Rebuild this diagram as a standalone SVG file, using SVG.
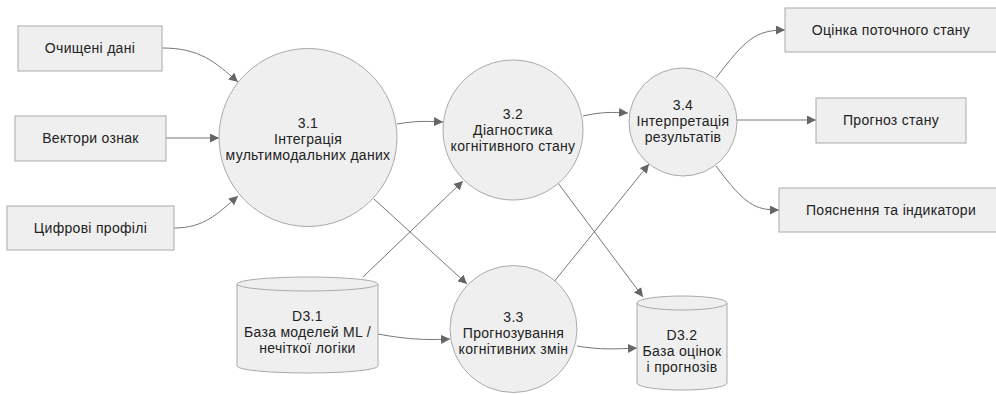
<svg xmlns="http://www.w3.org/2000/svg" width="996" height="394" viewBox="0 0 996 394">
<defs>
<style>
.box{fill:#efefef;stroke:#aaaaaa;stroke-width:1}
.t{font-family:"Liberation Sans",Arial,sans-serif;font-size:14px;letter-spacing:0.3px;fill:#222;text-anchor:middle}
.e{fill:none;stroke:#777;stroke-width:1;marker-end:url(#arr)}
</style>
<marker id="arr" markerUnits="userSpaceOnUse" markerWidth="9" markerHeight="9" refX="9" refY="4.5" orient="auto">
<path d="M0,0 L9,4.5 L0,9 z" fill="#666"/>
</marker>
</defs>
<rect width="996" height="394" fill="#ffffff"/>
<g id="connectors">
<path class="e" d="M162,48 C200,48 215,62 238,82"/>
<path class="e" d="M166,138 L219,138"/>
<path class="e" d="M174,228 C205,228 218,213 238,196"/>
<path class="e" d="M397,124 C415,121 425,121 443,122"/>
<path class="e" d="M583,116 C600,112 612,112 628,113"/>
<path class="e" d="M374,199 L467,284"/>
<path class="e" d="M363,277 L463,181"/>
<path class="e" d="M553,283 L649,164"/>
<path class="e" d="M558,183 L643,297"/>
<path class="e" d="M378,334 C410,340 430,340 450,339"/>
<path class="e" d="M577,346 C600,350 615,349 637,348"/>
<path class="e" d="M716,78 C745,40 755,30 785,30"/>
<path class="e" d="M737,120 L816,120"/>
<path class="e" d="M716,166 C745,205 755,210 779,210"/>
</g>
<g id="src1"><rect class="box" x="18" y="26" width="144" height="45"/><text class="t" x="90" y="53">Очищені дані</text></g>
<g id="src2"><rect class="box" x="15" y="116" width="151" height="45"/><text class="t" x="90.5" y="143">Вектори ознак</text></g>
<g id="src3"><rect class="box" x="7" y="206" width="167" height="44"/><text class="t" x="90.5" y="233">Цифрові профілі</text></g>
<g id="p31"><circle class="box" cx="308" cy="137.5" r="89"/><text class="t" x="308" y="128">3.1</text><text class="t" x="308" y="144">Інтеграція</text><text class="t" x="308" y="160">мультимодальних даних</text></g>
<g id="p32"><circle class="box" cx="513" cy="130" r="70"/><text class="t" x="513" y="119">3.2</text><text class="t" x="513" y="135">Діагностика</text><text class="t" x="513" y="151">когнітивного стану</text></g>
<g id="p34"><circle class="box" cx="683" cy="122" r="54"/><text class="t" x="683" y="110">3.4</text><text class="t" x="683" y="126">Інтерпретація</text><text class="t" x="683" y="142">результатів</text></g>
<g id="p33"><circle class="box" cx="513.5" cy="329" r="63.5"/><text class="t" x="513.5" y="322">3.3</text><text class="t" x="513.5" y="338">Прогнозування</text><text class="t" x="513.5" y="354">когнітивних змін</text></g>
<g id="d31"><path class="box" d="M237,284 L237,366 A70.5,7 0 0 0 378,366 L378,284 A70.5,7 0 0 0 237,284 Z"/><path class="box" style="fill:none" d="M237,284 A70.5,7 0 0 0 378,284"/><text class="t" x="307.5" y="321">D3.1</text><text class="t" x="307.5" y="337">База моделей ML /</text><text class="t" x="307.5" y="353">нечіткої логіки</text></g>
<g id="d32"><path class="box" d="M637,303 L637,383 A45,7 0 0 0 727,383 L727,303 A45,7 0 0 0 637,303 Z"/><path class="box" style="fill:none" d="M637,303 A45,7 0 0 0 727,303"/><text class="t" x="682" y="340">D3.2</text><text class="t" x="682" y="356">База оцінок</text><text class="t" x="682" y="372">і прогнозів</text></g>
<g id="out1"><rect class="box" x="785" y="8" width="212" height="44"/><text class="t" x="891" y="35">Оцінка поточного стану</text></g>
<g id="out2"><rect class="box" x="816" y="98" width="150" height="45"/><text class="t" x="891" y="125">Прогноз стану</text></g>
<g id="out3"><rect class="box" x="779" y="188" width="224" height="44"/><text class="t" x="891" y="215">Пояснення та індикатори</text></g>
</svg>
